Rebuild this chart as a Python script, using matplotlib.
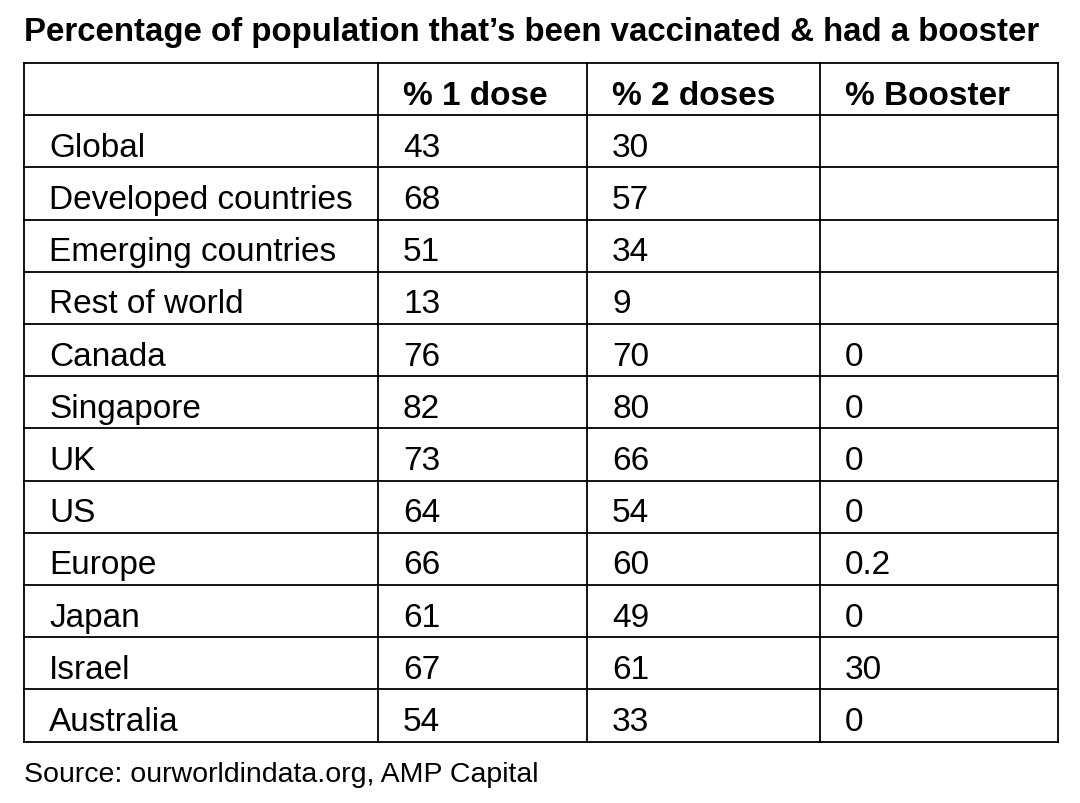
import matplotlib
matplotlib.use("Agg")
import matplotlib.pyplot as plt

plt.rcParams['font.family'] = ['Liberation Sans', 'DejaVu Sans']

title = "Percentage of population that\u2019s been vaccinated & had a booster"
headers = ["", "% 1 dose", "% 2 doses", "% Booster"]
regions = ["Global", "Developed countries", "Emerging countries", "Rest of world",
           "Canada", "Singapore", "UK", "US", "Europe", "Japan", "Israel", "Australia"]
one_dose = ["43", "68", "51", "13", "76", "82", "73", "64", "66", "61", "67", "54"]
two_doses = ["30", "57", "34", "9", "70", "80", "66", "54", "60", "49", "61", "33"]
booster = ["", "", "", "", "0", "0", "0", "0", "0.2", "0", "30", "0"]
source = "Source: ourworldindata.org, AMP Capital"

W, H = 1080, 804
fig = plt.figure(figsize=(W / 100, H / 100), dpi=100)
ax = fig.add_axes([0, 0, 1, 1])
ax.set_xlim(0, W)
ax.set_ylim(H, 0)
ax.axis('off')

col_x = [24, 378, 587, 820, 1058]
top, row_h = 64, 52.2
n_rows = len(regions) + 1
bottom = top + n_rows * row_h

for x in col_x:
    ax.plot([x, x], [top, bottom], color='black', lw=1.3)
for i in range(n_rows + 1):
    y = top + i * row_h
    ax.plot([col_x[0], col_x[-1]], [y, y], color='black', lw=1.3)

ax.text(24, 33, title, fontsize=23.8, fontweight='bold', va='center', ha='left')

for j, h in enumerate(headers):
    ax.text(col_x[j] + 25, top + row_h / 2 + 6, h, fontsize=24, fontweight='bold',
            va='center', ha='left')

for i, row in enumerate(zip(regions, one_dose, two_doses, booster)):
    y = top + (i + 1) * row_h + row_h / 2 + 6
    for j, val in enumerate(row):
        ax.text(col_x[j] + 25, y, val, fontsize=24, va='center', ha='left')

ax.text(24, 775, source, fontsize=20.5, va='center', ha='left')

fig.savefig("out.png", dpi=100)
